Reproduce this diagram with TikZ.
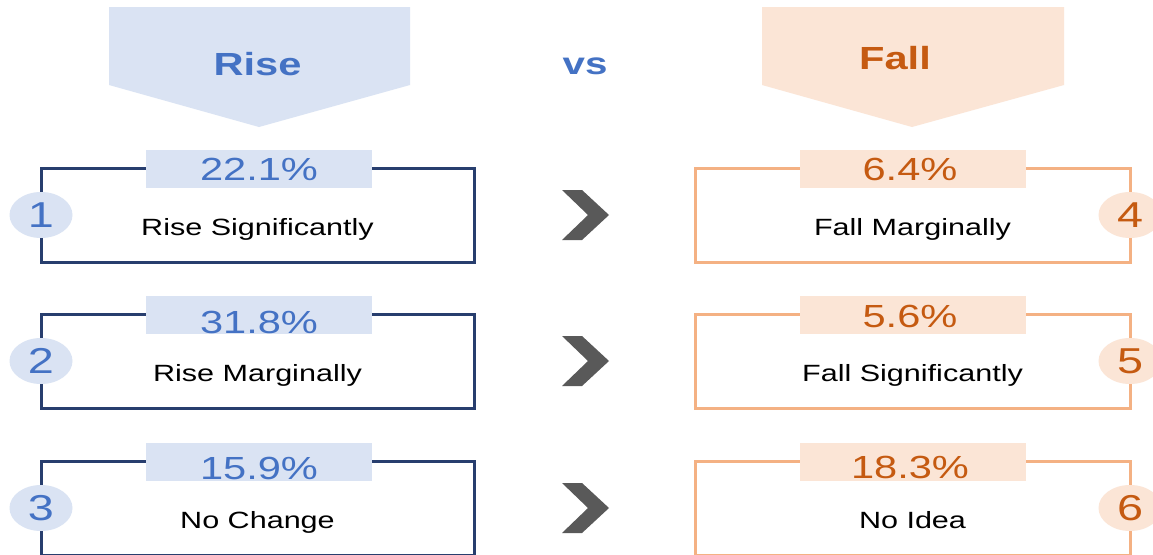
\documentclass[tikz,border=0pt]{standalone}
\usepackage{fontspec}
\setmainfont[FakeStretch=1.3]{Liberation Sans}
\usepackage{tikz}
\usetikzlibrary{shapes.geometric}

\definecolor{riseblue}{RGB}{68,114,196}
\definecolor{riselight}{RGB}{218,227,243}
\definecolor{risenavy}{RGB}{40,62,110}
\definecolor{fallorange}{RGB}{197,90,17}
\definecolor{falllight}{RGB}{251,229,214}
\definecolor{fallpeach}{RGB}{244,177,131}
\definecolor{chevgrey}{RGB}{89,89,89}

\begin{document}
\begin{tikzpicture}[x=1pt, y=-1pt,
                    every node/.style={inner sep=0pt, outer sep=0pt},
                    risebox/.style={draw=risenavy, line width=3pt, minimum width=433pt, minimum height=94pt},
                    fallbox/.style={draw=fallpeach, line width=3pt, minimum width=435pt, minimum height=94pt},
                    pct/.style={minimum width=226pt, minimum height=38pt},
                    num/.style={ellipse, minimum width=63pt, minimum height=46pt, font=\fontsize{36}{40}\selectfont},
                    pcttext/.style={anchor=base, font=\fontsize{32}{36}\selectfont},
                    answer/.style={anchor=base, font=\fontsize{23.5}{28}\selectfont},
                    head/.style={anchor=base, font=\bfseries\fontsize{32}{36}\selectfont},
                    chev/.style={fill=chevgrey}]

\useasboundingbox (0,0) rectangle (1153,554);
\fill[white] (0,0) rectangle (1153,554);

% headers
\fill[riselight] (109,7) -- (410,7) -- (410,85) -- (259,127) -- (109,85) -- cycle;
\node[head, text=riseblue] (rise) at (257.5,75) {Rise};
\fill[falllight] (762,7) -- (1064,7) -- (1064,85) -- (912,127) -- (762,85) -- cycle;
\node[head, text=fallorange] (fall) at (895,69) {Fall};
\node[head, font=\bfseries\fontsize{31}{36}\selectfont, text=riseblue] (vs) at (585,74) {vs};

% left column
\foreach \i/\y/\pct/\ans/\pb in {1/215/22.1/Rise Significantly/180,
                                 2/361/31.8/Rise Marginally/333,
                                 3/508/15.9/No Change/479} {
  \node[risebox] (rb\i) at (257.5,\y) {};
  \node[pct, fill=riselight] (rp\i) at (259,\y-46) {};
  \node[pcttext, text=riseblue] (rt\i) at (259,\pb) {\pct\%};
  \node[answer] (ra\i) at (257.5,\y+20) {\ans};
  \node[num, fill=riselight, text=riseblue] (rn\i) at (rb\i.west) {\i};
  \fill[chev] (562,\y-25) -- (582,\y-25) -- (609,\y) -- (582,\y+25) -- (562,\y+25) -- (588,\y) -- cycle;
}

% right column
\foreach \i/\y/\pct/\ans/\pb in {4/215/6.4/Fall Marginally/180,
                                 5/361/5.6/Fall Significantly/327,
                                 6/508/18.3/No Idea/478} {
  \node[fallbox] (fb\i) at (912.5,\y) {};
  \node[pct, fill=falllight] (fp\i) at (912.5,\y-46) {};
  \node[pcttext, text=fallorange] (ft\i) at (910,\pb) {\pct\%};
  \node[answer] (fa\i) at (912.5,\y+20) {\ans};
  \node[num, fill=falllight, text=fallorange] (fn\i) at (fb\i.east) {\i};
}
\end{tikzpicture}
\end{document}
